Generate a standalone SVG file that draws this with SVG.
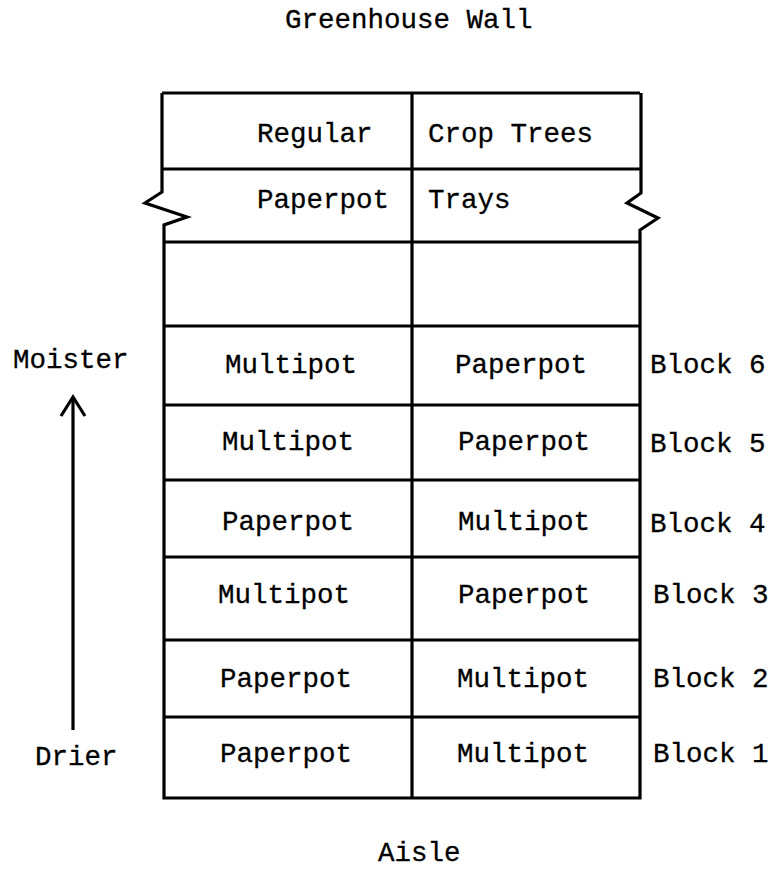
<svg xmlns="http://www.w3.org/2000/svg" width="773" height="871" viewBox="0 0 773 871">
<defs>
<style>
text{font-family:"Liberation Mono","Courier New",monospace;font-size:27.5px;fill:#000;stroke:#000;stroke-width:0.3;}
.ln{stroke:#000;stroke-width:3.2;fill:none;stroke-linejoin:miter;}
</style>
</defs>
<rect width="773" height="871" fill="#fff"/>
<text x="285" y="28">Greenhouse Wall</text>
<g id="frame">
<path class="ln" d="M162,93 H640 M162,93 V192 L145,203 L187,217 L164,225 V798 H640 V230 L658,218 L627,203 L641,193 V93"/>
<path class="ln" d="M412,93 V798"/>
<path class="ln" d="M162,169 H640 M164,242 H640 M164,326 H640 M164,405 H640 M164,480 H640 M164,557 H640 M164,640 H640 M164,717 H640"/>
</g>
<g id="top">
<text x="257" y="142">Regular</text>
<text x="428" y="142">Crop Trees</text>
<text x="257" y="208">Paperpot</text>
<text x="428" y="208">Trays</text>
</g>
<g id="block6"><text x="225" y="373">Multipot</text><text x="455" y="373">Paperpot</text><text x="650" y="373">Block 6</text></g>
<g id="block5"><text x="222" y="450">Multipot</text><text x="458" y="450">Paperpot</text><text x="650" y="452">Block 5</text></g>
<g id="block4"><text x="222" y="530">Paperpot</text><text x="458" y="530">Multipot</text><text x="650" y="532">Block 4</text></g>
<g id="block3"><text x="218" y="603">Multipot</text><text x="458" y="603">Paperpot</text><text x="653" y="603">Block 3</text></g>
<g id="block2"><text x="220" y="687">Paperpot</text><text x="457" y="687">Multipot</text><text x="653" y="687">Block 2</text></g>
<g id="block1"><text x="220" y="762">Paperpot</text><text x="457" y="762">Multipot</text><text x="653" y="762">Block 1</text></g>
<text x="13" y="368">Moister</text>
<text x="35" y="765">Drier</text>
<g id="connectors">
<path class="ln" d="M73,730 V397"/>
<path class="ln" d="M61,416 L73,397 L85,416"/>
</g>
<text x="378" y="861">Aisle</text>
</svg>
